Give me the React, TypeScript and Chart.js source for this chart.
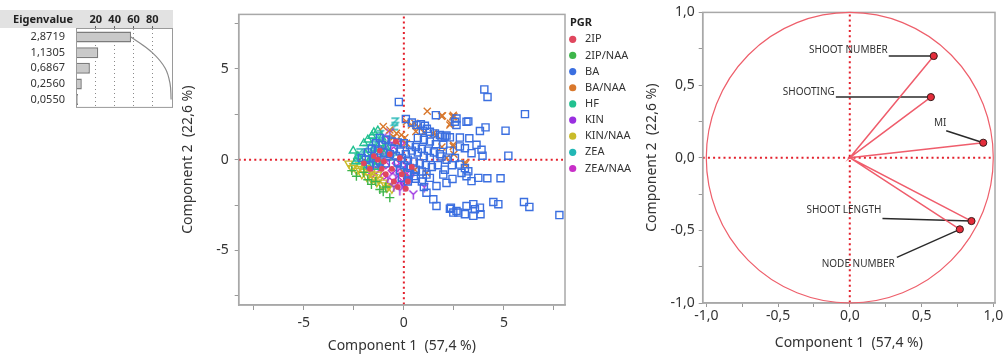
import React, { useEffect, useRef } from 'react';
import { Chart, registerables } from 'chart.js';
Chart.register(...registerables);

const FONT = '"Noto Sans", "Open Sans", sans-serif';

// ---------- Eigenvalue table ----------
const eigenLabels = ['2,8719', '1,1305', '0,6867', '0,2560', '0,0550'];
const eigenPercent = [57.4, 22.6, 13.7, 5.1, 1.1];
const eigenCumulative = [57.4, 80.0, 93.7, 98.9, 100.0];
const eigenTicks = [20, 40, 60, 80];

// ---------- Score plot ----------
const groupNames = ['2IP', '2IP/NAA', 'BA', 'BA/NAA', 'HF', 'KIN', 'KIN/NAA', 'ZEA', 'ZEA/NAA'];
const groupColors = ['#e0475e', '#3db54a', '#3b6fe0', '#d9782c', '#22c190', '#9a2fe0', '#c9bb2a', '#22b7b5', '#c82fc8'];
const scoreTicks = [-7.5, -5, -2.5, 0, 2.5, 5, 7.5];

const s2IP = [[-1.5, 0.2], [-1.3, 0.0], [-1.1, -0.5], [-0.9, -0.8], [-0.5, -1.2], [-0.3, -1.5], [0.1, -1.6], [-2.0, -0.2], [-1.7, -0.5], [-0.7, 0.3], [-0.2, 0.1], [0.4, -0.4], [-1.2, 0.5], [-0.6, -0.5], [-0.1, -0.8], [-0.4, 1.0], [-1.0, -0.1], [0.2, -1.2]];
const s2IPNAA = [[-2.37, -0.91], [-1.62, -1.36], [-1.2, -1.64], [-1.03, -1.77], [-0.7, -2.09], [-2.0, -0.7], [-1.4, -1.2], [-2.6, -0.6], [-1.8, -1.1], [-0.9, -1.5]];
const sBA = [
  [-0.25, 3.18], [4.02, 3.87], [4.18, 3.45], [6.05, 2.51], [1.6, 2.45], [2.63, 2.27], [2.55, 2.09], [2.63, 1.91], [3.13, 2.09], [3.22, 2.11], [4.08, 1.78], [3.8, 1.58], [5.08, 1.6],
  [0.1, 2.24], [0.4, 2.05], [0.63, 1.91], [0.85, 1.95], [1.05, 1.87], [1.3, 1.54], [1.55, 1.45], [1.8, 1.36], [1.88, 1.27], [2.05, 1.27], [2.13, 1.33], [2.3, 1.23], [2.8, 1.22], [3.27, 1.18], [1.15, 1.7], [0.95, 1.6],
  [-1.2, 1.2], [-0.9, 1.1], [-0.6, 1.0], [-0.3, 0.95], [0.0, 0.9], [0.3, 0.8], [0.6, 0.7], [0.9, 0.6], [1.2, 0.5], [1.5, 0.4], [1.8, 0.3], [1.97, 0.82], [2.8, 0.73], [3.05, 0.63], [3.63, 0.82], [3.88, 0.55], [3.38, 0.36], [3.93, 0.22], [5.22, 0.22], [1.88, 0.18], [2.13, 0.0], [2.55, 0.09], [2.3, 0.5], [1.6, 0.85], [1.3, 1.0], [1.0, 1.1], [0.7, 1.2],
  [-1.6, 0.6], [-1.3, 0.5], [-1.0, 0.4], [-0.7, 0.3], [-0.4, 0.2], [-0.1, 0.1], [0.2, 0.0], [0.5, -0.1], [0.8, -0.2], [1.1, -0.3], [1.4, -0.4], [0.4, 0.5], [0.7, 0.4], [1.0, 0.2], [1.3, 0.1], [-0.5, 0.6], [-0.2, 0.45], [0.1, 0.3],
  [-0.3, -0.15], [0.0, -0.3], [0.3, -0.45], [0.6, -0.55], [0.9, -0.65], [1.13, -0.82], [-0.2, -0.6], [0.2, -0.75], [0.5, -0.9], [-0.9, -0.2], [-1.2, -0.1], [-1.5, 0.1], [-1.9, 0.0], [-1.7, -0.3], [-1.4, -0.2], [-1.8, 0.4], [-2.1, 0.1], [-1.1, 0.8], [-1.4, 0.9],
  [2.8, -0.27], [3.05, -0.46], [2.88, -0.73], [3.22, -0.64], [2.05, -0.55], [1.97, -0.82], [2.13, -1.28], [2.43, -1.06], [3.13, -0.91], [3.38, -1.18], [3.72, -1.0], [4.17, -1.02], [4.83, -1.02], [1.7, -0.3], [2.4, -0.3],
  [1.3, -1.0], [1.63, -1.45], [1.13, -1.82], [1.47, -2.18], [1.63, -2.55], [2.35, -2.64], [2.63, -2.82], [0.9, -1.2], [0.6, -1.05], [0.2, -1.2], [-0.1, -1.0], [1.0, -1.5],
  [2.3, -2.7], [2.47, -2.91], [2.72, -2.91], [3.13, -2.55], [3.05, -3.0], [3.47, -2.45], [3.55, -2.73], [3.8, -2.64], [3.83, -3.0], [3.47, -3.09], [4.47, -2.33], [4.72, -2.45], [6.0, -2.33], [6.27, -2.6], [7.77, -3.05],
];
const sBANAA = [[1.17, 2.67], [1.93, 2.42], [2.47, 2.45], [2.3, 1.91], [2.5, 2.36], [1.88, 2.4], [2.43, 2.36], [2.33, 2.0], [0.55, 2.0], [0.72, 1.82], [0.38, 1.91], [0.13, 2.09], [-1.03, 1.82], [-0.7, 1.64], [-0.37, 1.45], [-0.12, 1.36], [1.47, 1.45], [1.63, 1.36], [2.47, 0.82], [2.47, 0.73], [2.13, 0.09], [3.05, -0.27], [3.05, -0.15], [1.13, -0.73], [0.55, -0.55], [-0.37, 1.0], [0.13, 0.91], [-0.5, 1.25], [0.05, 1.2], [0.6, 1.55], [1.0, 1.5], [1.9, 0.7], [2.5, 0.3], [0.0, -0.7]];
const sHF = [[-2.53, 0.49], [-2.3, 0.2], [-2.0, 0.9], [-1.8, 1.1], [-1.6, 1.3], [-1.5, 1.5], [-1.3, 1.6], [-1.9, 0.3], [-2.1, -0.1], [-1.7, 0.0], [-1.5, 0.6], [-1.2, 0.9], [-1.0, 0.3], [-1.8, -0.3], [-1.4, -0.4], [-2.4, -0.1], [-1.1, 1.2], [-0.9, 0.7], [-1.6, 0.2], [-1.3, -0.1]];
const sKIN = [[0.47, -1.91], [1.02, -1.51], [-0.2, -1.7], [-0.5, -1.5], [-0.1, -1.3], [0.3, -1.1], [-0.8, -1.0], [-0.3, -0.4], [0.5, -0.6], [-1.0, 0.6], [-0.6, 0.9], [0.1, -0.3], [-1.3, -0.3], [0.0, -1.5], [-0.4, -0.9], [-1.0, 1.3], [-0.7, 1.5]];
const sKINNAA = [[-2.75, -0.2], [-2.5, -0.35], [-2.25, -0.5], [-2.0, -0.65], [-1.75, -0.8], [-1.5, -0.95], [-1.25, -1.1], [-1.0, -1.25], [-0.75, -1.45], [-0.6, -1.6], [-2.6, -0.45], [-2.35, -0.6], [-2.1, -0.8], [-1.85, -0.95], [-1.6, -1.1], [-1.35, -1.25], [-1.1, -1.4], [-0.85, -1.55], [-2.2, -0.3], [-1.9, -0.45], [-1.6, -0.6], [-1.3, -0.8]];
const sZEA = [[-0.45, 2.09], [-0.45, 1.85], [-1.2, 1.4], [-1.6, 1.0], [-1.9, 0.6], [-2.2, 0.4], [-1.4, 0.3], [-1.0, 0.5], [-0.7, 1.1], [-1.7, -0.2], [-2.0, -0.3], [-1.1, -0.2], [-0.5, 0.2], [-1.5, 0.8], [-2.3, 0.1]];
const sZEANAA = [[-1.2, 0.3], [-0.9, -0.3], [-0.6, -0.6], [-0.4, -0.2], [-0.2, -0.7], [0.1, -0.9], [-0.8, 0.1], [-1.4, -0.6], [-0.3, -1.1], [0.2, -0.4], [-1.0, -0.9], [-0.5, 0.5], [-1.6, -0.8], [0.0, -1.3], [-0.7, -1.2], [-0.15, 0.9], [-0.9, 1.1], [0.3, -0.8]];

// ---------- Loading plot ----------
const loadingNames = ['SHOOT NUMBER', 'SHOOTING', 'MI', 'SHOOT LENGTH', 'NODE NUMBER'];
const loadingX = [0.585, 0.565, 0.93, 0.848, 0.767];
const loadingY = [0.70, 0.417, 0.103, -0.436, -0.493];
const loadingTicks = [-1, -0.75, -0.5, -0.25, 0, 0.25, 0.5, 0.75, 1];

// label placement (pixel offsets from the point): text anchor, alignment, leader start
const labelLayout = [
  { tx: -46, ty: -5.5, align: 'right', lx: -45, ly: 0 },
  { tx: -96, ty: -5, align: 'right', lx: -95, ly: 0 },
  { tx: -43, ty: -20, align: 'center', lx: -37, ly: -12 },
  { tx: -90, ty: -10.5, align: 'right', lx: -89, ly: -2.5 },
  { tx: -65, ty: 35, align: 'right', lx: -63, ly: 28 },
];

const pts = (a: number[][]) => a.map(([x, y]) => ({ x, y }));
const fmtComma = (v: number) => v.toFixed(1).replace('.', ',');

function marker(kind: string, color: string) {
  const c = document.createElement('canvas');
  c.width = 11; c.height = 11;
  const g = c.getContext('2d')!;
  g.strokeStyle = color; g.lineWidth = 1.4; g.beginPath();
  if (kind === 'Y') {
    g.moveTo(1.5, 1.5); g.lineTo(5.5, 5.5); g.lineTo(9.5, 1.5);
    g.moveTo(5.5, 5.5); g.lineTo(5.5, 10.5);
  } else {
    g.moveTo(2, 2); g.lineTo(9, 2); g.lineTo(2, 9); g.lineTo(9, 9);
  }
  g.stroke();
  return c;
}

export default function App() {
  const eigRef = useRef<HTMLCanvasElement>(null);
  const scoreRef = useRef<HTMLCanvasElement>(null);
  const loadRef = useRef<HTMLCanvasElement>(null);

  useEffect(() => {
    const charts: Chart[] = [];

    // ----- Eigenvalue chart -----
    const eigDecor = {
      id: 'eigDecor',
      beforeDraw(chart: any) {
        const ctx = chart.ctx;
        ctx.save();
        ctx.fillStyle = '#e2e2e2';
        ctx.fillRect(0, 10, 173, 18);
        ctx.fillStyle = '#222';
        ctx.font = `bold 11px ${FONT}`;
        ctx.textBaseline = 'middle';
        ctx.fillText('Eigenvalue', 13, 19.5);
        ctx.restore();
      },
      afterDraw(chart: any) {
        const { ctx, chartArea: a } = chart;
        ctx.save();
        ctx.strokeStyle = '#9a9a9a';
        ctx.lineWidth = 1;
        ctx.strokeRect(a.left - 0.5, 28.5, a.right - a.left, a.bottom - 28.5);
        ctx.restore();
      },
    };
    charts.push(new Chart(eigRef.current!, {
      type: 'bar',
      data: {
        labels: eigenLabels,
        datasets: [
          { type: 'line', data: eigenCumulative, indexAxis: 'y', borderColor: '#8c8c8c', borderWidth: 1.2, pointRadius: 0, tension: 0.4 } as any,
          { type: 'bar', data: eigenPercent, backgroundColor: '#c9c9c9', borderColor: '#7c7c7c', borderWidth: 1.5, barPercentage: 0.7, categoryPercentage: 1 } as any,
        ],
      },
      options: {
        indexAxis: 'y',
        animation: false,
        responsive: false,
        devicePixelRatio: 1,
        layout: { padding: { top: 1.2, right: 3, bottom: 0 } },
        plugins: { legend: { display: false }, tooltip: { enabled: false } },
        scales: {
          x: {
            position: 'top', min: 0, max: 102,
            afterBuildTicks: (s: any) => { s.ticks = eigenTicks.map((v) => ({ value: v })); },
            afterFit: (s: any) => { s.height = 28; },
            ticks: { font: { family: FONT, size: 11, weight: 'bold' }, color: '#222', padding: 0, maxRotation: 0, autoSkip: false },
            grid: { color: '#8a8a8a', lineWidth: 1, tickLength: 3, tickColor: '#555', tickBorderDash: [] },
            border: { display: false, dash: [1, 3] },
          },
          y: {
            afterFit: (s: any) => { s.width = 77; },
            ticks: { font: { family: FONT, size: 11 }, color: '#333', padding: 4, autoSkip: false },
            grid: { display: false },
            border: { display: false },
          },
        },
      } as any,
      plugins: [eigDecor],
    }));

    // ----- Score plot -----
    const styles: any[] = [
      { pointStyle: 'circle', pointRadius: 2.2, fill: true },
      { pointStyle: 'cross', pointRadius: 4.5 },
      { pointStyle: 'rect', pointRadius: 5 },
      { pointStyle: 'crossRot', pointRadius: 5 },
      { pointStyle: 'triangle', pointRadius: 4.5 },
      { pointStyle: marker('Y', groupColors[5]) },
      { pointStyle: 'triangle', pointRadius: 4.5, rotation: 180 },
      { pointStyle: marker('Z', groupColors[7]) },
      { pointStyle: 'rectRot', pointRadius: 3.5 },
    ];
    const series = [s2IP, s2IPNAA, sBA, sBANAA, sHF, sKIN, sKINNAA, sZEA, sZEANAA];
    const scoreDatasets = series.map((s, i) => ({
      label: groupNames[i],
      data: pts(s),
      pointStyle: styles[i].pointStyle,
      pointRadius: styles[i].pointRadius ?? 5,
      rotation: styles[i].rotation ?? 0,
      borderColor: groupColors[i],
      backgroundColor: styles[i].fill ? groupColors[i] : 'rgba(0,0,0,0)',
      pointBorderWidth: 1.4,
    }));

    const frameAndZero = (chart: any) => {
      const { ctx, chartArea: a, scales } = chart;
      const x0 = scales.x.getPixelForValue(0);
      const y0 = scales.y.getPixelForValue(0);
      ctx.save();
      ctx.strokeStyle = '#e3202c';
      ctx.lineWidth = 2;
      ctx.setLineDash([2, 3.2]);
      ctx.beginPath();
      ctx.moveTo(x0, a.top + 2); ctx.lineTo(x0, a.bottom);
      ctx.moveTo(a.left, y0); ctx.lineTo(a.right - 2, y0);
      ctx.stroke();
      ctx.setLineDash([]);
      ctx.strokeStyle = '#a8a8a8';
      ctx.lineWidth = 1.5;
      ctx.strokeRect(a.left, a.top, a.right - a.left, a.bottom - a.top);
      ctx.restore();
    };

    const scoreDecor = {
      id: 'scoreDecor',
      beforeDatasetsDraw: frameAndZero,
      afterDraw(chart: any) {
        const ctx = chart.ctx;
        const lx = 410;
        ctx.save();
        ctx.textBaseline = 'middle';
        ctx.fillStyle = '#222';
        ctx.font = `bold 11px ${FONT}`;
        ctx.fillText('PGR', lx, 22.7);
        ctx.font = `11px ${FONT}`;
        groupNames.forEach((g, i) => {
          const y = 39.3 + i * 16.15;
          ctx.fillStyle = groupColors[i];
          ctx.beginPath();
          ctx.arc(lx + 2.7, y, 3.6, 0, Math.PI * 2);
          ctx.fill();
          ctx.fillStyle = '#333';
          ctx.fillText(g, lx + 15, y);
        });
        ctx.restore();
      },
    };

    const axisTitleFont = { family: FONT, size: 14 };
    const tickFont = { family: FONT, size: 14 };

    charts.push(new Chart(scoreRef.current!, {
      type: 'scatter',
      data: { datasets: scoreDatasets as any },
      options: {
        animation: false,
        responsive: false,
        devicePixelRatio: 1,
        layout: { padding: { top: 12, right: 85, left: 0, bottom: 0 } },
        plugins: { legend: { display: false }, tooltip: { enabled: false } },
        scales: {
          x: {
            min: -8.25, max: 8.05,
            afterBuildTicks: (s: any) => { s.ticks = scoreTicks.map((v) => ({ value: v })); },
            afterFit: (s: any) => { s.height = 51; },
            ticks: { font: tickFont, color: '#333', padding: 5, maxRotation: 0, autoSkip: false, callback: (v: any) => (v % 5 === 0 ? String(v) : '') },
            grid: { drawOnChartArea: false, tickLength: 5, color: '#999' },
            border: { color: '#a8a8a8', width: 1.5 },
            title: { display: true, text: 'Component 1  (57,4 %)', font: axisTitleFont, color: '#333', padding: { top: 0, bottom: 1.6 } },
          },
          y: {
            min: -8, max: 8,
            afterBuildTicks: (s: any) => { s.ticks = scoreTicks.map((v) => ({ value: v })); },
            afterFit: (s: any) => { s.width = 78.7; },
            ticks: { font: tickFont, color: '#333', padding: 6, autoSkip: false, callback: (v: any) => (v % 5 === 0 ? String(v) : '') },
            grid: { drawOnChartArea: false, tickLength: 4, color: '#999' },
            border: { color: '#a8a8a8', width: 1.5 },
            title: { display: true, text: 'Component 2  (22,6 %)', font: axisTitleFont, color: '#333', padding: { top: 19.6, bottom: 0 } },
          },
        },
      } as any,
      plugins: [scoreDecor],
    }));

    // ----- Loading plot -----
    const vectorData: { x: number; y: number }[] = [];
    loadingX.forEach((x, i) => { vectorData.push({ x: 0, y: 0 }, { x, y: loadingY[i] }); });

    const loadDecor = {
      id: 'loadDecor',
      beforeDatasetsDraw(chart: any) {
        frameAndZero(chart);
        const { ctx, scales } = chart;
        const sx = scales.x, sy = scales.y;
        const cx = sx.getPixelForValue(0), cy = sy.getPixelForValue(0);
        ctx.save();
        ctx.strokeStyle = '#ee5f6b';
        ctx.lineWidth = 1.2;
        ctx.beginPath();
        ctx.ellipse(cx, cy, Math.abs(sx.getPixelForValue(1) - cx), Math.abs(cy - sy.getPixelForValue(1)), 0, 0, Math.PI * 2);
        ctx.stroke();
        ctx.font = `10px ${FONT}`;
        ctx.textBaseline = 'middle';
        loadingNames.forEach((name, i) => {
          const px = sx.getPixelForValue(loadingX[i]);
          const py = sy.getPixelForValue(loadingY[i]);
          const L = labelLayout[i];
          ctx.strokeStyle = '#2a2a2a';
          ctx.lineWidth = 1.5;
          ctx.beginPath();
          ctx.moveTo(px + L.lx, py + L.ly);
          ctx.lineTo(px, py);
          ctx.stroke();
          ctx.fillStyle = '#333';
          ctx.textAlign = L.align;
          ctx.fillText(name, px + L.tx, py + L.ty);
        });
        ctx.restore();
      },
    };

    charts.push(new Chart(loadRef.current!, {
      type: 'scatter',
      data: {
        datasets: [
          { data: loadingX.map((x, i) => ({ x, y: loadingY[i] })), pointRadius: 3.6, backgroundColor: '#e42c3a', borderColor: '#3a1a1a', pointBorderWidth: 1 },
          { data: vectorData, showLine: true, borderColor: 'rgba(238,84,100,0.95)', borderWidth: 1.5, pointRadius: 0 },
        ] as any,
      },
      options: {
        animation: false,
        responsive: false,
        devicePixelRatio: 1,
        layout: { padding: { top: 12, right: 10, left: 0, bottom: 0 } },
        plugins: { legend: { display: false }, tooltip: { enabled: false } },
        scales: {
          x: {
            min: -1.025, max: 1.012,
            afterBuildTicks: (s: any) => { s.ticks = loadingTicks.map((v) => ({ value: v })); },
            afterFit: (s: any) => { s.height = 53; },
            ticks: { font: tickFont, color: '#333', padding: 1, maxRotation: 0, autoSkip: false, callback: (v: any) => (Math.abs(v * 2 - Math.round(v * 2)) < 1e-9 ? fmtComma(v) : '') },
            grid: { drawOnChartArea: false, tickLength: 4, color: '#999' },
            border: { color: '#a8a8a8', width: 1.5 },
            title: { display: true, text: 'Component 1  (57,4 %)', font: axisTitleFont, color: '#333', padding: { top: 0, bottom: 4.3 } },
          },
          y: {
            min: -1.0, max: 1.0,
            afterBuildTicks: (s: any) => { s.ticks = loadingTicks.map((v) => ({ value: v })); },
            afterFit: (s: any) => { s.width = 72.7; },
            ticks: { font: tickFont, color: '#333', padding: 4, autoSkip: false, callback: (v: any) => (Math.abs(v * 2 - Math.round(v * 2)) < 1e-9 ? fmtComma(v) : '') },
            grid: { drawOnChartArea: false, tickLength: 4, color: '#999' },
            border: { color: '#a8a8a8', width: 1.5 },
            title: { display: true, text: 'Component 2  (22,6 %)', font: axisTitleFont, color: '#333', padding: { top: 13.3, bottom: 0 } },
          },
        },
      } as any,
      plugins: [loadDecor],
    }));

    return () => charts.forEach((c) => c.destroy());
  }, []);

  return (
    <div style={{ position: 'absolute', left: 0, top: 0, width: 1005, height: 356, background: '#fff', overflow: 'hidden' }}>
      <canvas ref={eigRef} width={176} height={118} style={{ position: 'absolute', left: 0, top: 0 }} />
      <canvas ref={scoreRef} width={490} height={356} style={{ position: 'absolute', left: 160, top: 0 }} />
      <canvas ref={loadRef} width={375} height={356} style={{ position: 'absolute', left: 630, top: 0 }} />
    </div>
  );
}
